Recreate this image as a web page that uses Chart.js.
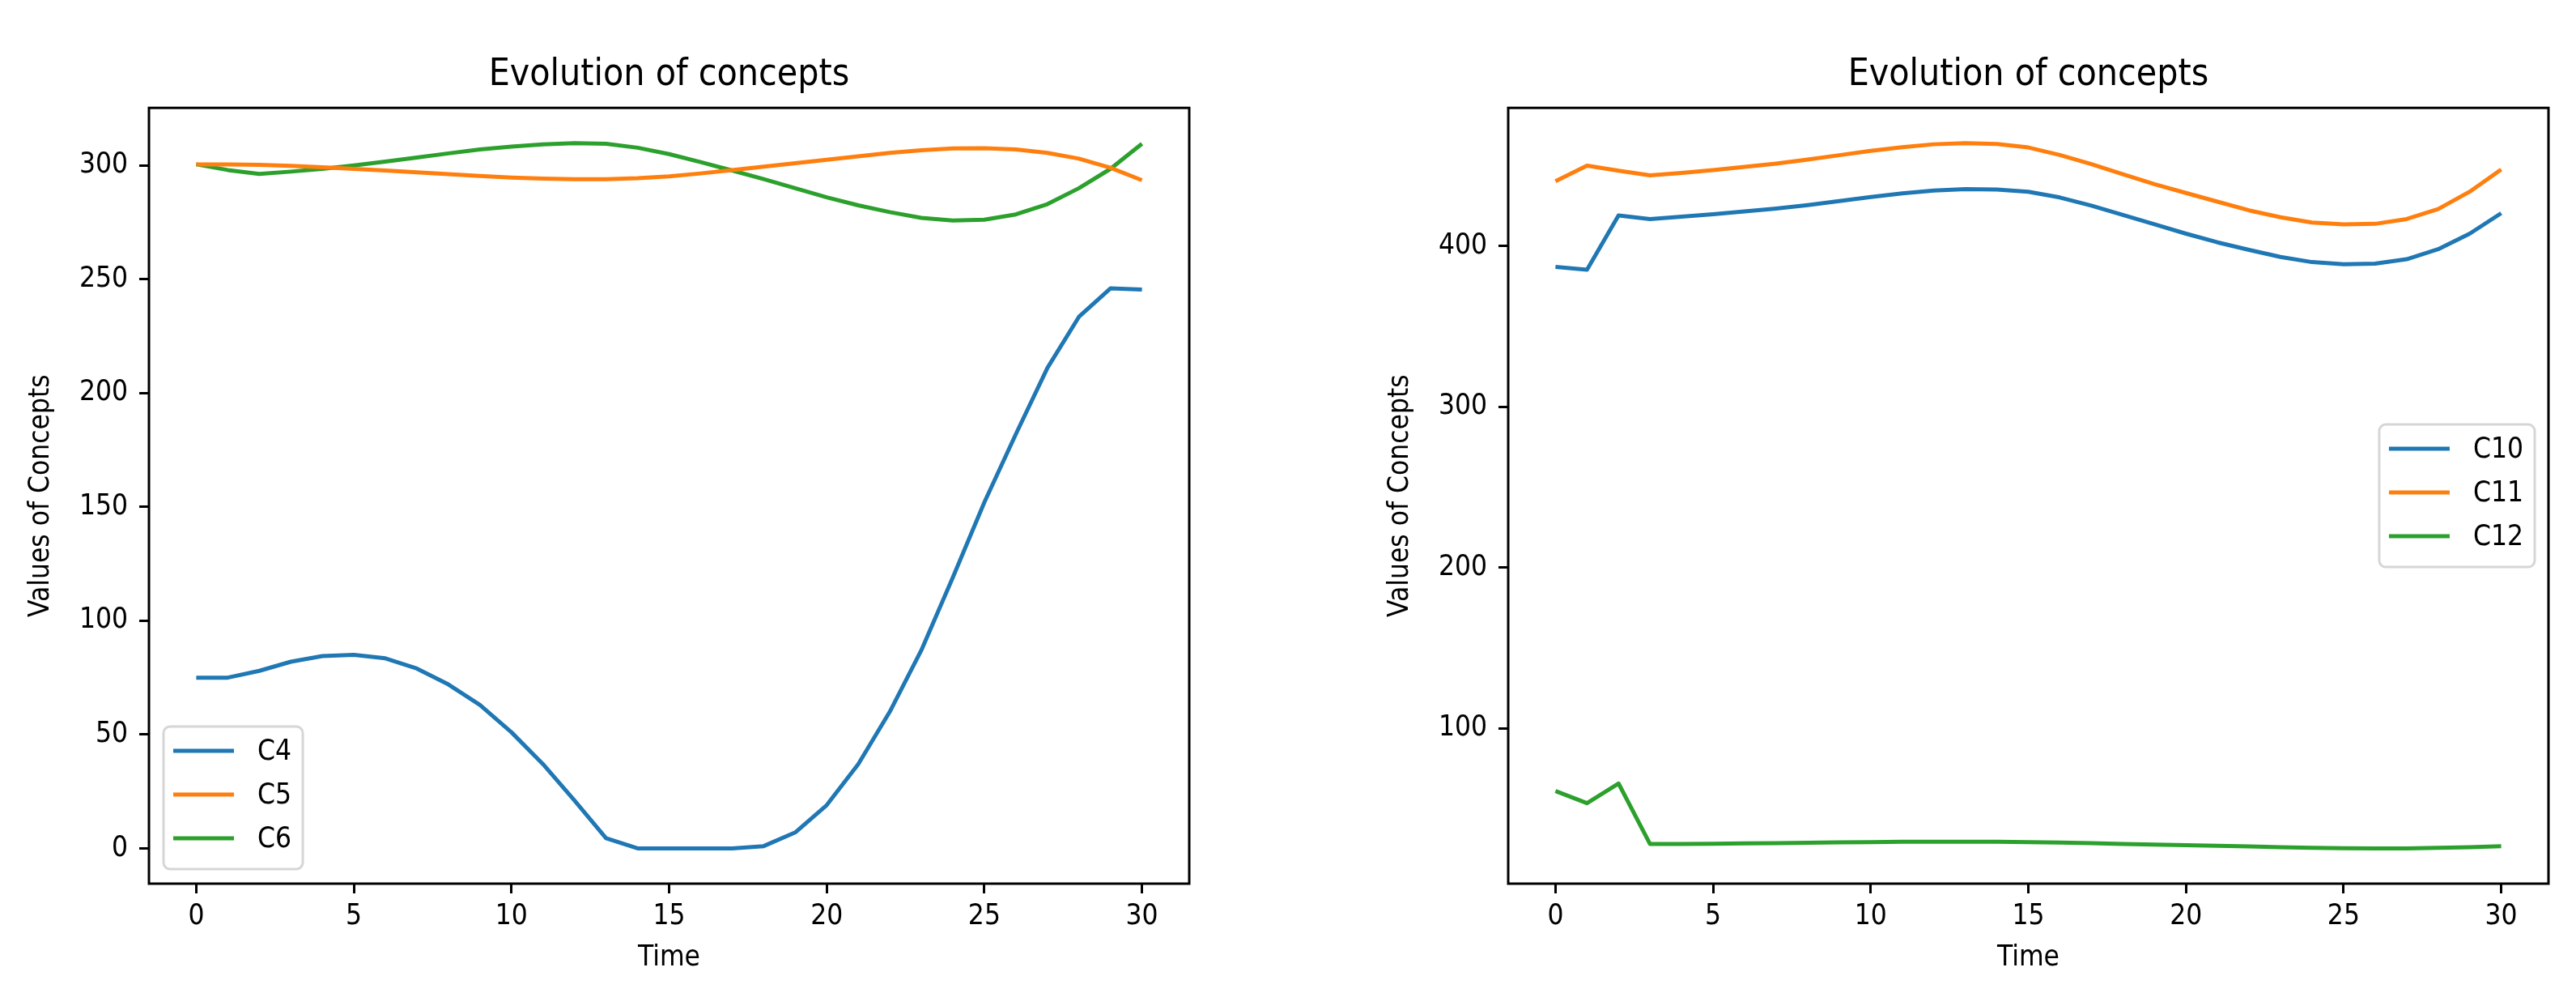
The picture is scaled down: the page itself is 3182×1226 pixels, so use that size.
<!DOCTYPE html>
<html>
<head>
<meta charset="utf-8">
<script src="https://cdn.jsdelivr.net/npm/chart.js@4"></script>
<style>
  html, body { margin: 0; padding: 0; background: #fff; }
  body { width: 3182px; height: 1226px; position: relative; overflow: hidden; }
  canvas { position: absolute; top: 0; }
  #left { left: 0; }
  #right { left: 1600px; }
</style>
</head>
<body>
<canvas id="left" width="1600" height="1226"></canvas>
<canvas id="right" width="1582" height="1226"></canvas>
<script>
const time = [0, 1, 2, 3, 4, 5, 6, 7, 8, 9, 10, 11, 12, 13, 14, 15, 16, 17, 18, 19, 20, 21, 22, 23, 24, 25, 26, 27, 28, 29, 30];

// left panel
const leftLabels = ["C4", "C5", "C6"];
const c4 = [75, 75, 78, 82, 84.5, 85, 83.5, 79, 72, 63, 51, 37, 21, 4.5, 0, 0, 0, 0, 1, 7, 19, 37, 60, 87, 119, 152, 182, 211, 233.5, 246, 245.5];
const c5 = [300.5, 300.5, 300.3, 299.8, 299.2, 298.5, 297.8, 297, 296.2, 295.4, 294.7, 294.2, 294, 294, 294.4, 295.2, 296.5, 298, 299.5, 301, 302.5, 304, 305.5, 306.7, 307.5, 307.6, 307, 305.5, 303, 299, 293.5];
const c6 = [300.5, 298, 296.3, 297.3, 298.5, 300, 301.7, 303.5, 305.3, 307, 308.3, 309.3, 309.8, 309.5, 307.8, 305, 301.5, 297.8, 294, 290, 286, 282.5, 279.5, 277, 275.8, 276.2, 278.5, 283, 290, 298.5, 309.5];
const leftYTicks = [0, 50, 100, 150, 200, 250, 300];

// right panel
const rightLabels = ["C10", "C11", "C12"];
const c10 = [387, 385.3, 419, 416.8, 418.3, 419.8, 421.5, 423.3, 425.5, 428, 430.5, 432.8, 434.5, 435.4, 435.2, 433.8, 430.2, 425.1, 419.3, 413.5, 407.7, 402.3, 397.6, 393.2, 390, 388.7, 389, 391.8, 398, 407.7, 420.4];
const c11 = [440.3, 450, 446.9, 444, 445.5, 447.2, 449.2, 451.3, 453.8, 456.5, 459.2, 461.5, 463.3, 464, 463.5, 461.3, 456.6, 451, 444.7, 438.5, 433, 427.6, 422.2, 417.9, 414.6, 413.5, 413.8, 416.8, 423, 433.8, 447.6];
const c12 = [61, 53.4, 65.7, 28, 28, 28.2, 28.4, 28.6, 28.8, 29, 29.2, 29.4, 29.5, 29.5, 29.4, 29.2, 28.9, 28.5, 28.1, 27.7, 27.3, 26.9, 26.5, 26.1, 25.7, 25.4, 25.3, 25.3, 25.6, 26, 26.7];
const rightYTicks = [100, 200, 300, 400];

const xTicks = [0, 5, 10, 15, 20, 25, 30];
const colors = ["#1f77b4", "#ff7f0e", "#2ca02c"];

const FONT = '"DejaVu Sans Condensed", "DejaVu Sans", sans-serif';

// axes frame drawn over the lines like matplotlib spines
const framePlugin = {
  id: "frame",
  afterDatasetsDraw(chart) {
    const a = chart.chartArea, ctx = chart.ctx;
    ctx.save();
    ctx.strokeStyle = "#000";
    ctx.lineWidth = 3;
    ctx.strokeRect(a.left, a.top, a.right - a.left, a.bottom - a.top);
    ctx.restore();
  }
};

// matplotlib-ish legend box inside the axes
const mplLegend = {
  id: "mplLegend",
  afterDraw(chart, args, opts) {
    const ctx = chart.ctx, a = chart.chartArea;
    const sets = chart.data.datasets;
    ctx.save();
    ctx.font = "35px " + FONT;
    let tw = 0;
    sets.forEach(d => { tw = Math.max(tw, ctx.measureText(d.label).width); });
    const w = 116 + tw + 14, h = 176;
    let x, y;
    if (opts.place === "lowerLeft") {
      x = a.left + 18; y = a.bottom - 18 - h;
    } else {
      x = a.right - 17 - w; y = (a.top + a.bottom) / 2 - h / 2;
    }
    ctx.beginPath();
    ctx.roundRect(x, y, w, h, 8);
    ctx.fillStyle = "rgba(255,255,255,0.8)";
    ctx.fill();
    ctx.strokeStyle = "#d6d6d6";
    ctx.lineWidth = 3;
    ctx.stroke();
    sets.forEach((d, i) => {
      const ly = y + 30 + i * 54;
      ctx.strokeStyle = d.borderColor;
      ctx.lineWidth = 5;
      ctx.beginPath();
      ctx.moveTo(x + 12, ly);
      ctx.lineTo(x + 87, ly);
      ctx.stroke();
      ctx.fillStyle = "#000";
      ctx.textBaseline = "middle";
      ctx.textAlign = "left";
      ctx.fillText(d.label, x + 116, ly + 2);
    });
    ctx.restore();
  }
};

function makeChart(id, series, labels, yTicks, cfg) {
  let lo = Infinity, hi = -Infinity;
  series.forEach(s => s.forEach(v => { lo = Math.min(lo, v); hi = Math.max(hi, v); }));
  const pad = (hi - lo) * 0.05;

  return new Chart(document.getElementById(id), {
    type: "line",
    data: {
      datasets: series.map((s, i) => ({
        label: labels[i],
        data: time.map((t, j) => ({ x: t, y: s[j] })),
        borderColor: colors[i],
        backgroundColor: colors[i],
        borderWidth: 5,
        pointRadius: 0,
        tension: 0,
        borderJoinStyle: "round",
        fill: false
      }))
    },
    options: {
      responsive: false,
      animation: false,
      devicePixelRatio: 1,
      layout: { padding: { left: 0, right: cfg.padRight, top: 0, bottom: 0 } },
      plugins: {
        legend: { display: false },
        tooltip: { enabled: false },
        title: {
          display: true,
          text: "Evolution of concepts",
          fullSize: false,
          color: "#000",
          font: { family: FONT, size: 46, weight: "normal" },
          padding: { top: 65, bottom: 13 }
        },
        mplLegend: { place: cfg.legendPlace }
      },
      scales: {
        x: {
          type: "linear",
          min: -1.5,
          max: 31.5,
          afterBuildTicks: s => { s.ticks = xTicks.map(v => ({ value: v })); },
          afterFit: s => { s.height = 135; },
          grid: { drawOnChartArea: false, drawTicks: true, tickLength: 12, color: "#000", lineWidth: 3 },
          border: { display: false },
          ticks: { color: "#000", font: { family: FONT, size: 35 }, padding: 8, maxRotation: 0, autoSkip: false },
          title: { display: true, text: "Time", color: "#000", font: { family: FONT, size: 35 }, padding: { top: 0, bottom: 22 } }
        },
        y: {
          type: "linear",
          min: lo - pad,
          max: hi + pad,
          afterBuildTicks: s => { s.ticks = yTicks.map(v => ({ value: v })); },
          afterFit: s => { s.width = cfg.yWidth; },
          grid: { drawOnChartArea: false, drawTicks: true, tickLength: 12, color: "#000", lineWidth: 3 },
          border: { display: false },
          ticks: { color: "#000", font: { family: FONT, size: 35 }, padding: 14, autoSkip: false },
          title: { display: true, text: "Values of Concepts", color: "#000", font: { family: FONT, size: 35 }, padding: { top: cfg.yTitlePad, bottom: 0 } }
        }
      }
    },
    plugins: [framePlugin, mplLegend]
  });
}

makeChart("left", [c4, c5, c6], leftLabels, leftYTicks,
  { yWidth: 184, padRight: 131, yTitlePad: 30, legendPlace: "lowerLeft" });
makeChart("right", [c10, c11, c12], rightLabels, rightYTicks,
  { yWidth: 263, padRight: 34, yTitlePad: 109, legendPlace: "centerRight" });
</script>
</body>
</html>
